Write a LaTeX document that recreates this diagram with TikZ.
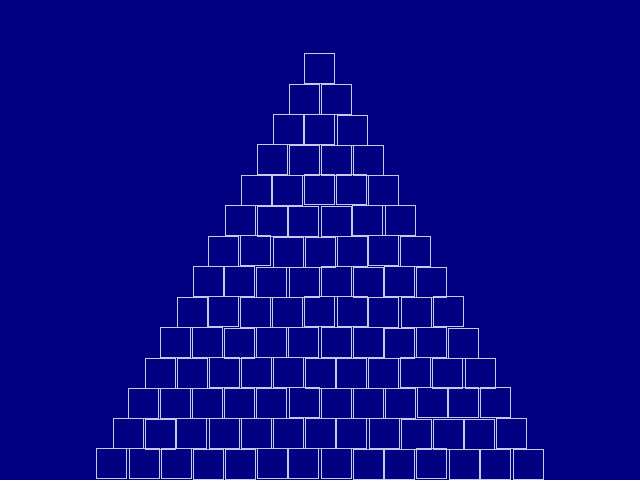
\documentclass[tikz,border=0pt]{standalone}
\definecolor{bgnavy}{HTML}{000080}
\definecolor{edge}{HTML}{C8C8EC}
\begin{document}
\begin{tikzpicture}[x=1pt,y=1pt,
  sq/.style={draw=edge,line width=1pt,minimum size=30pt,inner sep=0pt,outer sep=0pt}]
\fill[bgnavy] (0,0) rectangle (640,480);
\useasboundingbox (0,0) rectangle (640,480);
\pgfmathsetseed{7}
\foreach \k in {1,...,14}{
  \foreach \c in {1,...,\k}{
    \pgfmathsetmacro{\jx}{0.8*rand}
    \pgfmathsetmacro{\jy}{0.8*rand}
    \pgfmathsetmacro{\cx}{320-16*(\k-1)+32*(\c-1)+\jx}
    \pgfmathsetmacro{\cy}{480-69-30.4*(\k-1)+\jy}
    \node[sq] (s-\k-\c) at (\cx,\cy) {};
  }
}
\end{tikzpicture}
\end{document}
